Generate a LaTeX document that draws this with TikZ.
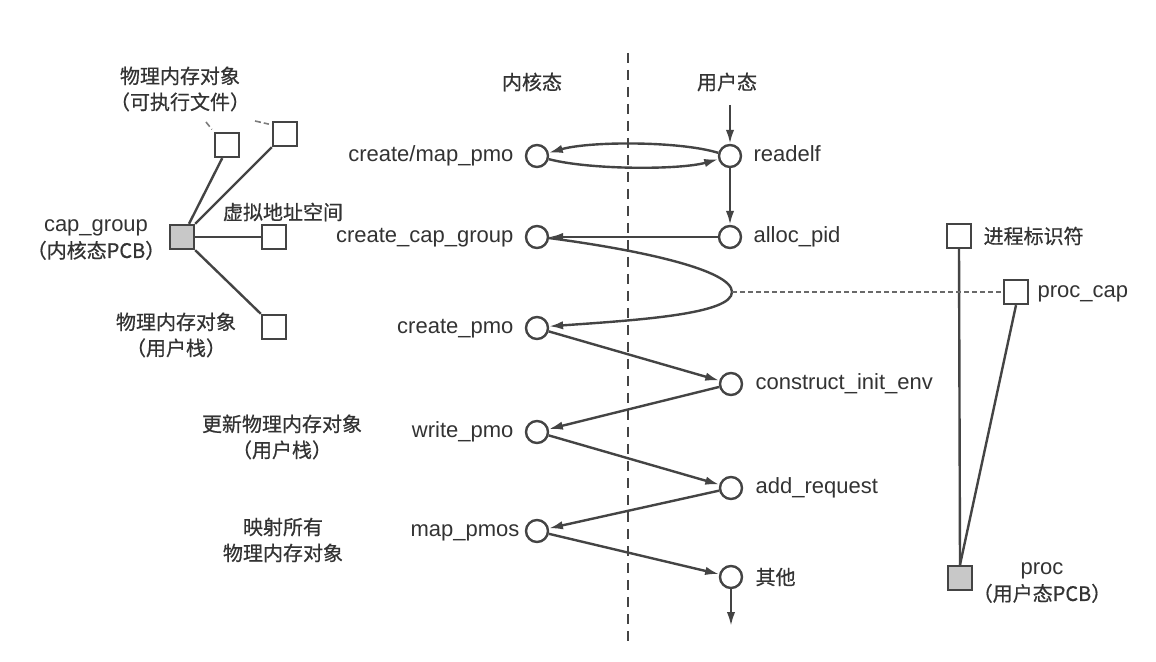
\documentclass[tikz,border=0pt]{standalone}
\usepackage{fontspec}
\setmainfont{Liberation Sans}
\newfontfamily\cjk[FakeBold=0.6]{Noto Sans CJK SC}
\usetikzlibrary{arrows.meta}
\definecolor{ink}{HTML}{444444}
\definecolor{txt}{HTML}{333333}
\definecolor{boxgray}{HTML}{C8C8C8}
\begin{document}
\begin{tikzpicture}[x=0.5pt,y=-0.5pt,
  inkline/.style={draw=ink, line width=1.2pt},
  cnode/.style={circle, draw=ink, line width=1.2pt, fill=white, minimum size=11pt, inner sep=0pt},
  sq/.style={rectangle, draw=ink, line width=1.2pt, fill=white, minimum size=12pt, inner sep=0pt},
  gsq/.style={sq, fill=boxgray},
  lat/.style={text=txt, font=\fontsize{11}{13}\selectfont, inner sep=0pt, text height=0.75em, text depth=0.22em},
  zh/.style={text=txt, font=\cjk\fontsize{10}{13}\selectfont, inner sep=0pt, align=center},
  arr/.style={draw=ink, line width=1.2pt, -{Latex[length=7pt,width=4.2pt]}},
  vdash/.style={draw=ink, line width=1pt, dash pattern=on 5pt off 3.5pt},
  hdash/.style={draw=ink!80, line width=0.55pt, dash pattern=on 2.5pt off 1.5pt},
  tickline/.style={draw=ink!70, line width=0.8pt, dash pattern=on 3pt off 1.5pt}
]
\fill[white] (0,0) rectangle (1156,662);
\useasboundingbox (0,0) rectangle (1156,662);

% dashed separator
\coordinate (dtop) at (628,53);
\coordinate (dbot) at (628,645);
\draw[vdash] (dtop) -- (dbot);

% headers
\node[zh] (kern) at (532,82) {内核态};
\node[zh] (user) at (727,82) {用户态};

% circles
\node[cnode] (cmp) at (537,156) {};
\node[cnode] (rdf) at (730,156) {};
\node[cnode] (ccg) at (537,237) {};
\node[cnode] (apid) at (730,237) {};
\node[cnode] (cpmo) at (537,328) {};
\node[cnode] (cie) at (731,384) {};
\node[cnode] (wpmo) at (537,432) {};
\node[cnode] (areq) at (731,488) {};
\node[cnode] (mpmos) at (537,531) {};
\node[cnode] (qt) at (731,577) {};

% circle labels
\node[lat, anchor=east] (cmpL) at ([xshift=-5.5pt]cmp.west) {create/map\_pmo};
\node[lat, anchor=east] (ccgL) at ([xshift=-5.5pt]ccg.west) {create\_cap\_group};
\node[lat, anchor=east] (cpmoL) at ([xshift=-5.5pt]cpmo.west) {create\_pmo};
\node[lat, anchor=east] (wpmoL) at ([xshift=-5.5pt]wpmo.west) {write\_pmo};
\node[lat, anchor=east] (mpmosL) at ([xshift=-2.5pt]mpmos.west) {map\_pmos};
\node[lat, anchor=west] (rdfL) at ([xshift=5.5pt]rdf.east) {readelf};
\node[lat, anchor=west] (apidL) at ([xshift=5.5pt]apid.east) {alloc\_pid};
\node[lat, anchor=west] (cieL) at ([xshift=6pt]cie.east) {construct\_init\_env};
\node[lat, anchor=west] (areqL) at ([xshift=6pt]areq.east) {add\_request};
\node[zh, anchor=west] (qtL) at ([xshift=6pt]qt.east) {其他};

% flow arrows
\coordinate (rtop) at (730,105);
\draw[arr] (rtop) -- (rdf);
\draw[arr] (rdf.165) .. controls (680,141) and (590,141) .. (cmp.15);
\draw[arr] (cmp.-15) .. controls (590,170) and (680,170) .. (rdf.195);
\draw[arr] (rdf) -- (apid);
\draw[arr] (apid) -- (ccg);
\coordinate (turn) at (732,292);
\draw[arr] (ccg.-5) .. controls (640,250) and (732,270) .. (turn) .. controls (732,314) and (640,320) .. (cpmo.8);
\draw[arr] (cpmo) -- (cie);
\draw[arr] (cie) -- (wpmo);
\draw[arr] (wpmo) -- (areq);
\draw[arr] (areq) -- (mpmos);
\draw[arr] (mpmos) -- (qt);
\coordinate (qend) at (731,626);
\draw[arr] (qt) -- (qend);

% left cluster
\node[sq] (b1) at (227,145) {};
\node[sq] (b2) at (285,134) {};
\node[gsq] (cg) at (182,237) {};
\node[sq] (b3) at (274,237) {};
\node[sq] (b4) at (274,327) {};
\draw[inkline] (cg.62) -- (b1.250);
\draw[inkline] (cg.north east) -- (b2.south west);
\draw[inkline] (cg.east) -- (b3.west);
\draw[inkline] (cg.south east) -- (b4.north west);
\coordinate (t1) at (206,122);
\coordinate (t2) at (255,121);
\draw[tickline, shorten >=1.5pt] (t1) -- (b1.north west);
\draw[tickline, shorten >=1.5pt] (t2) -- ([yshift=-2pt]b2.north west);

\node[zh] (pmo1) at (180,89) {物理内存对象\\（可执行文件）};
\node[zh] (vas) at (283,212) {虚拟地址空间};
\node[zh] (cgL) at (96,240) {{\rmfamily\fontsize{11}{13}\selectfont cap\_group}\\（内核态PCB）};
\node[zh] (pmo2) at (176,335) {物理内存对象\\（用户栈）};
\node[zh] (upd) at (282,437) {更新物理内存对象\\（用户栈）};
\node[zh] (mapall) at (283,540) {映射所有\\物理内存对象};

% right cluster
\node[sq] (pid) at (959,236) {};
\node[sq] (pcap) at (1016,292) {};
\node[gsq] (proc) at (960,578) {};
\draw[inkline] (pid.south) -- (proc.north);
\draw[inkline] (pcap.south) -- (proc.north);
\draw[hdash] (turn) -- (pcap.west);
\node[zh, anchor=west] (pidL) at ([xshift=5.5pt]pid.east) {进程标识符};
\node[lat, anchor=west] (pcapL) at ([xshift=4pt]pcap.east) {proc\_cap};
\node[zh] (procL) at (1042,583) {{\rmfamily\fontsize{11}{13}\selectfont proc}\\（用户态PCB）};
\end{tikzpicture}
\end{document}
